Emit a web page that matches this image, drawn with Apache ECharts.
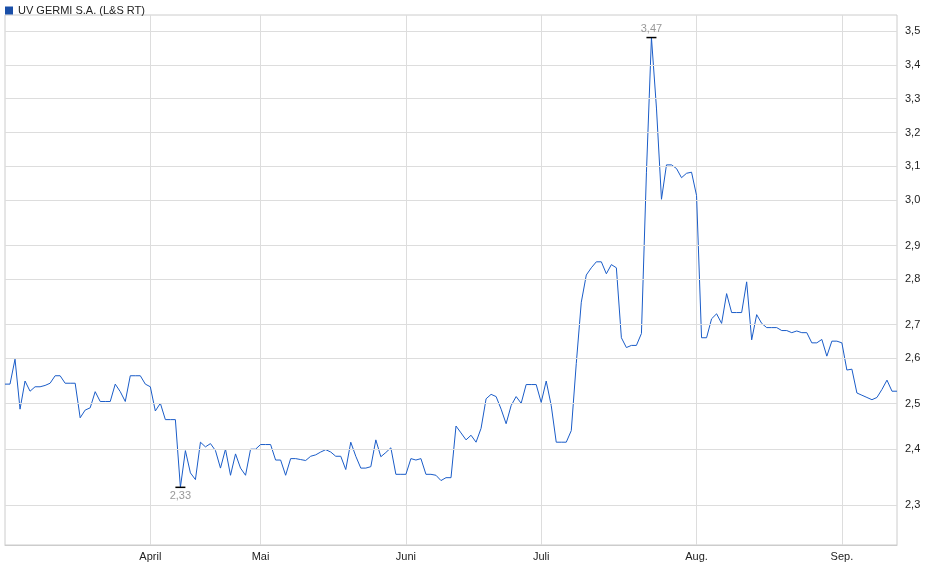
<!DOCTYPE html>
<html><head><meta charset="utf-8">
<script src="https://cdn.jsdelivr.net/npm/echarts@6/dist/echarts.min.js"></script>
<style>html,body{margin:0;padding:0;background:#fff}#c{width:940px;height:579px}</style>
</head><body><div id="c"></div>
<script>
const seriesName = 'UV GERMI S.A. (L&S RT)';
const prices = [
2.553,2.553,2.61,2.497,2.56,2.537,2.547,2.547,2.55,2.555,
2.572,2.572,2.555,2.555,2.555,2.478,2.495,2.5,2.536,2.514,
2.514,2.514,2.553,2.536,2.514,2.572,2.572,2.572,2.553,2.547,
2.493,2.51,2.474,2.474,2.474,2.33,2.407,2.36,2.346,2.425,
2.415,2.422,2.407,2.37,2.41,2.355,2.4,2.37,2.355,2.41,
2.41,2.42,2.42,2.42,2.387,2.387,2.355,2.39,2.39,2.388,
2.386,2.395,2.398,2.404,2.409,2.404,2.395,2.395,2.367,2.425,
2.395,2.37,2.37,2.373,2.43,2.394,2.403,2.413,2.357,2.357,
2.357,2.39,2.387,2.39,2.357,2.357,2.355,2.344,2.35,2.35,
2.46,2.445,2.43,2.44,2.425,2.455,2.52,2.53,2.525,2.497,
2.465,2.505,2.525,2.51,2.552,2.552,2.552,2.512,2.56,2.505,
2.425,2.425,2.425,2.45,2.6,2.745,2.812,2.83,2.845,2.845,
2.815,2.838,2.83,2.66,2.637,2.642,2.642,2.67,3.08,3.47,
3.26,3.007,3.1,3.1,3.09,3.065,3.077,3.08,3.017,2.66,
2.66,2.705,2.717,2.694,2.766,2.72,2.72,2.72,2.795,2.655,
2.715,2.694,2.684,2.684,2.684,2.677,2.677,2.672,2.676,2.672,
2.672,2.648,2.648,2.656,2.617,2.652,2.652,2.648,2.585,2.587,
2.533,2.528,2.523,2.518,2.523,2.541,2.562,2.537,2.537
];
const monthIdx = [29,51,80,107,138,167];
const monthNames = ['April','Mai','Juni','Juli','Aug.','Sep.'];
const yTicks = [2.3,2.4,2.5,2.6,2.7,2.8,2.9,3.0,3.1,3.2,3.3,3.4,3.5];
const yMin = 2.214, yMax = 3.540;

const cats = prices.map((_, i) => i);
const fmt = v => v.toFixed(2).replace('.', ',');
let maxI = 0, minI = 0;
prices.forEach((v, i) => { if (v > prices[maxI]) maxI = i; if (v < prices[minI]) minI = i; });
const isMonth = i => monthIdx.indexOf(i) >= 0;

const chart = echarts.init(document.getElementById('c'));
chart.setOption({
  animation: false,
  textStyle: { fontFamily: 'Liberation Sans, Arial, sans-serif' },
  legend: {
    left: 0, top: 0, itemWidth: 8, itemHeight: 8, itemGap: 4,
    icon: 'rect', textStyle: { fontSize: 11, color: '#222' },
    data: [seriesName]
  },
  grid: { left: 5, right: 43, top: 15, bottom: 34, show: true, borderColor: '#ccc', borderWidth: 1 },
  xAxis: {
    type: 'category', data: cats, boundaryGap: false,
    axisLine: { lineStyle: { color: '#ccc' } },
    axisTick: { show: false },
    axisLabel: { interval: (i) => isMonth(i), formatter: (v) => monthNames[monthIdx.indexOf(Number(v))] || '',
      fontSize: 11, color: '#222', margin: 6 },
    splitLine: { show: true, interval: (i) => isMonth(i), lineStyle: { color: '#ddd' } }
  },
  yAxis: {
    type: 'value', min: Math.log(yMin), max: Math.log(yMax), position: 'right',
    axisLabel: { show: false }, splitLine: { show: false }, axisLine: { show: false }, axisTick: { show: false }
  },
  series: [{
    name: seriesName, type: 'line', showSymbol: false, symbol: 'none',
    data: prices.map(v => Math.log(v)),
    lineStyle: { color: '#1a5cc8', width: 1 }, itemStyle: { color: '#1a4fa8' },
    markLine: {
      silent: true, symbol: 'none',
      lineStyle: { color: '#ddd', type: 'solid', width: 1 },
      label: { position: 'end', distance: 8, fontSize: 11, color: '#222', formatter: p => yTicks[p.dataIndex].toFixed(1).replace('.', ',') },
      data: yTicks.map(t => ({ yAxis: Math.log(t) }))
    },
    markPoint: {
      symbol: 'rect', symbolSize: [10, 1.5],
      itemStyle: { color: '#000' },
      data: [
        { coord: [maxI, Math.log(prices[maxI])], label: { show: true, position: 'top', distance: 2, color: '#999', fontSize: 11, formatter: fmt(prices[maxI]) } },
        { coord: [minI, Math.log(prices[minI])], label: { show: true, position: 'bottom', distance: 2, color: '#999', fontSize: 11, formatter: fmt(prices[minI]) } }
      ]
    }
  }]
});
</script></body></html>
